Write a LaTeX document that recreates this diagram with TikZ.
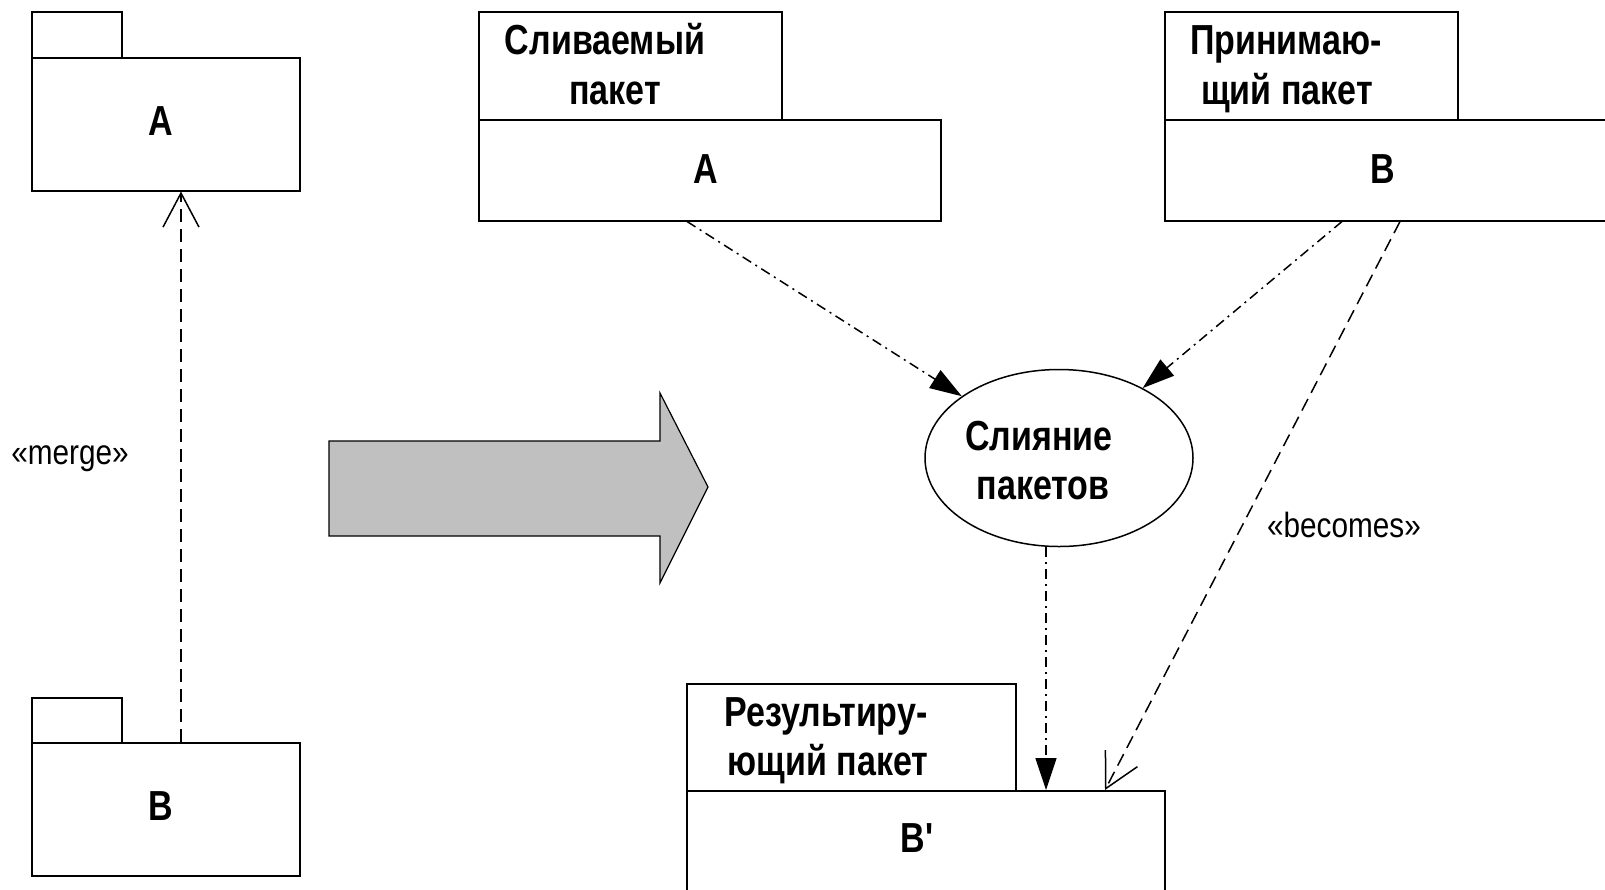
\documentclass[tikz,border=0pt]{standalone}
\usepackage{fontspec}
\setmainfont{Liberation Sans}
\newfontfamily\narrowsans[FakeStretch=0.85]{Liberation Sans}
\newfontfamily\narrowbold[FakeStretch=0.81]{Liberation Sans}
\usetikzlibrary{arrows.meta,calc,shapes.geometric}

\definecolor{arrowgray}{HTML}{C0C0C0}

\tikzset{
  pkg/.style={draw, line width=0.75pt, inner sep=0pt, anchor=north west},
  title/.style={font=\narrowbold\bfseries\fontsize{21pt}{25pt}\selectfont, anchor=base, inner sep=0pt},
  pkgname/.style={font=\narrowbold\bfseries\fontsize{21pt}{25pt}\selectfont, inner sep=0pt},
  stereo/.style={font=\narrowsans\fontsize{17.5pt}{21pt}\selectfont, inner sep=0pt},
  conn/.style={line width=0.75pt},
  dashdot/.style={conn, dash pattern=on 5pt off 2.5pt on 1pt off 2.5pt},
  longdash/.style={conn, dash pattern=on 6.5pt off 3.5pt},
  filledhead/.style={-{Triangle[length=16pt,width=10.5pt]}},
  openhead/.style={-{Straight Barb[length=17pt,width=18pt,line width=0.75pt]}},
}

\begin{document}
\begin{tikzpicture}[x=0.5pt,y=-0.5pt]
  \useasboundingbox (0,0) rectangle (1605,889);
  \clip (0,0) rectangle (1605,889);

  % left: package A merged into package B
  \node[pkg, minimum width=45pt, minimum height=23pt] (lAtab) at (31,11) {};
  \node[pkg, minimum width=134pt, minimum height=66.5pt] (lA) at (31,57) {};
  \node[pkgname] (lAname) at (161,121) {A};

  \node[pkg, minimum width=45pt, minimum height=22.5pt] (lBtab) at (31,697) {};
  \node[pkg, minimum width=134pt, minimum height=66.5pt] (lB) at (31,742) {};
  \node[pkgname] (lBname) at (161,806) {B};

  \draw[longdash, openhead] ($(lB.north west)+(150,0)$) -- ($(lA.south west)+(150,0)$);
  \node[stereo] (mergelbl) at (70,459) {«merge»};

  % block arrow
  \draw[fill=arrowgray, line width=0.6pt] (329,441) -- (660,441) -- (660,393)
    -- (708,487) -- (660,583) -- (660,536) -- (329,536) -- cycle;

  % merged package
  \node[pkg, minimum width=151.5pt, minimum height=54pt] (rAtab) at (478,11) {};
  \node[pkg, minimum width=231pt, minimum height=50.5pt] (rA) at (478,119) {};
  \node[title] (rAt1) at (605,54) {Сливаемый};
  \node[title] (rAt2) at (615,104) {пакет};
  \node[pkgname] (rAname) at (706,169) {A};

  % receiving package
  \node[pkg, minimum width=146.5pt, minimum height=54pt] (rBtab) at (1164,11) {};
  \node[pkg, minimum width=227pt, minimum height=50.5pt] (rB) at (1164,119) {};
  \node[title] (rBt1) at (1286,54) {Принимаю-};
  \node[title] (rBt2) at (1287,104) {щий пакет};
  \node[pkgname] (rBname) at (1383,169) {B};

  % merge operation
  \node[draw, ellipse, line width=0.75pt, minimum width=134pt, minimum height=88.5pt, inner sep=0pt] (op) at (1059,458) {};
  \node[title] (opt1) at (1039,450) {Слияние};
  \node[title] (opt2) at (1043,499) {пакетов};

  % resulting package
  \node[pkg, minimum width=164.5pt, minimum height=53.5pt] (restab) at (686,683) {};
  \node[pkg, minimum width=239pt, minimum height=57.5pt] (res) at (686,790) {};
  \node[title] (rest1) at (826,726) {Результиру-};
  \node[title] (rest2) at (828,775) {ющий пакет};
  \node[pkgname] (resname) at (917,838) {B'};

  % connectors
  \draw[dashdot, filledhead] ($(rA.south west)+(209,0)$) -- (op);
  \draw[dashdot, filledhead] ($(rB.south west)+(178,0)$) -- (op);
  \draw[dashdot, filledhead] ($(op.south)+(-13,0)$) -- ($(res.north west)+(360,0)$);
  \draw[longdash, openhead] ($(rB.south west)+(236,0)$) -- ($(res.north west)+(419,0)$);
  \node[stereo] (becomeslbl) at (1344,525) {«becomes»};
\end{tikzpicture}
\end{document}
